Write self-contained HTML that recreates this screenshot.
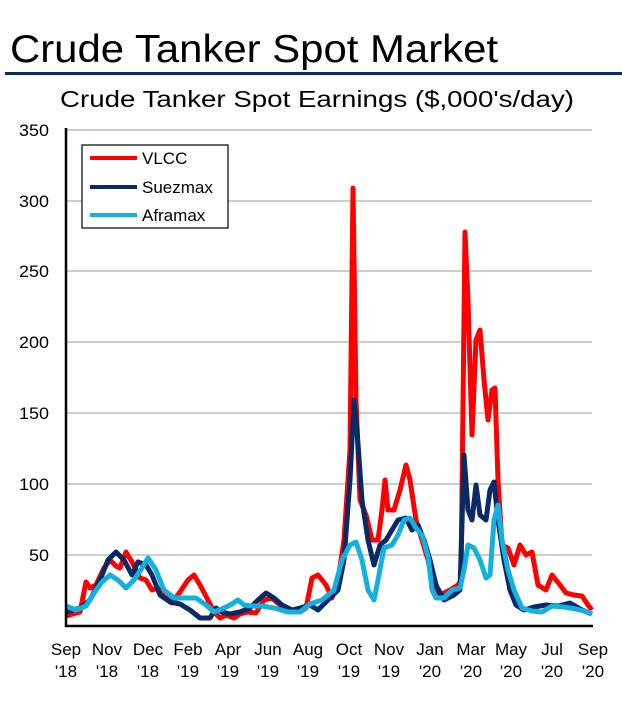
<!DOCTYPE html>
<html><head><meta charset="utf-8"><style>
html,body{margin:0;padding:0;background:#fff;}
body{width:622px;height:698px;overflow:hidden;font-family:"Liberation Sans",sans-serif;}
</style></head><body>
<svg width="622" height="698" xmlns="http://www.w3.org/2000/svg" font-family="Liberation Sans, sans-serif">
<text x="10" y="62" font-size="39" fill="#000" textLength="488" lengthAdjust="spacingAndGlyphs">Crude Tanker Spot Market</text>
<rect x="5" y="72" width="617" height="3" fill="#0d2a5e"/>
<text x="60" y="107" font-size="23" fill="#000" textLength="514" lengthAdjust="spacingAndGlyphs">Crude Tanker Spot Earnings ($,000's/day)</text>
<g stroke="#bdbdbd" stroke-width="1.5">
<line x1="66" y1="130" x2="592" y2="130"/>
<line x1="66" y1="201" x2="592" y2="201"/>
<line x1="66" y1="271" x2="592" y2="271"/>
<line x1="66" y1="342" x2="592" y2="342"/>
<line x1="66" y1="413" x2="592" y2="413"/>
<line x1="66" y1="484" x2="592" y2="484"/>
<line x1="66" y1="555" x2="592" y2="555"/>
</g>
<g font-size="17" text-anchor="end" fill="#000">
<text x="49" y="136" textLength="30" lengthAdjust="spacingAndGlyphs">350</text><text x="49" y="207" textLength="30" lengthAdjust="spacingAndGlyphs">300</text><text x="49" y="277" textLength="30" lengthAdjust="spacingAndGlyphs">250</text>
<text x="49" y="348" textLength="30" lengthAdjust="spacingAndGlyphs">200</text><text x="49" y="419" textLength="30" lengthAdjust="spacingAndGlyphs">150</text><text x="49" y="490" textLength="30" lengthAdjust="spacingAndGlyphs">100</text><text x="49" y="561" textLength="20" lengthAdjust="spacingAndGlyphs">50</text>
</g>
<g fill="none" stroke-width="5" stroke-linejoin="round">
<polyline stroke="#ff0000" points="66,616 80,612 86,582 90,588 96,585 104,568 110,560 116,566 120,568 126,552 132,562 140,578 146,580 152,590 158,588 165,597 172,603 180,592 188,580 194,575 200,585 208,600 214,612 220,618 226,615 234,618 240,614 248,612 256,613 264,600 272,598 280,605 290,612 300,612 306,608 312,578 318,575 326,585 332,598 338,580 344,540 350,450 353,188 356,400 360,500 366,515 372,540 378,540 382,510 385,480 388,510 394,510 400,490 406,465 410,480 416,520 422,540 428,560 434,590 440,595 450,590 458,585 461,580 465,232 468,300 472,435 476,340 480,330 484,380 488,420 492,390 495,388 498,480 502,545 508,548 514,565 520,545 526,555 532,552 538,585 546,590 552,575 560,585 566,593 574,595 582,596 588,605 592,610"/>
<polyline stroke="#0a2a66" points="66,612 80,608 90,600 100,580 108,560 116,552 124,560 132,575 138,562 146,565 152,575 160,595 170,602 180,604 190,610 200,618 210,618 216,608 222,612 230,614 240,612 250,608 258,600 266,593 274,598 282,605 292,610 300,608 310,605 318,610 328,600 338,590 344,560 350,480 354,400 357,430 362,500 368,540 374,565 380,545 386,540 392,530 398,520 406,518 412,530 418,525 424,540 430,560 436,585 444,600 454,595 460,590 464,455 468,510 472,520 476,485 480,515 486,520 490,490 494,482 498,520 504,560 510,590 516,605 524,610 534,607 546,605 558,606 570,603 582,610 592,614"/>
<polyline stroke="#14b0df" points="66,606 76,610 86,606 96,590 102,582 110,575 118,580 126,588 134,580 142,568 148,558 156,570 164,590 174,598 186,598 196,598 206,605 214,612 224,608 232,604 238,600 244,605 252,606 262,606 274,608 288,612 300,612 310,604 322,600 334,590 342,560 350,545 356,542 362,560 368,590 374,600 378,580 384,548 392,545 398,535 404,520 410,518 416,528 422,535 428,556 432,590 436,598 444,598 452,590 460,588 464,570 468,545 474,548 480,560 486,578 490,575 494,520 498,505 502,540 508,570 514,590 522,608 532,611 542,612 552,606 564,607 576,609 588,612 592,614"/>
</g>
<line x1="66" y1="128" x2="66" y2="627" stroke="#000" stroke-width="2.5"/>
<line x1="65" y1="626" x2="593" y2="626" stroke="#000" stroke-width="2.5"/>
<rect x="82" y="145" width="146" height="83" fill="#fff" stroke="#000" stroke-width="1.2"/>
<g stroke-width="4"><line x1="90" y1="158" x2="137" y2="158" stroke="#ff0000"/><line x1="90" y1="187" x2="137" y2="187" stroke="#0a2a66"/><line x1="90" y1="215" x2="137" y2="215" stroke="#14b0df"/></g>
<g font-size="17" fill="#000"><text x="142" y="164">VLCC</text><text x="142" y="193">Suezmax</text><text x="142" y="221">Aframax</text></g>
<g font-size="17" text-anchor="middle" fill="#000">
<text x="66" y="655">Sep</text><text x="66" y="677">'18</text>
<text x="107" y="655">Nov</text><text x="107" y="677">'18</text>
<text x="148" y="655">Dec</text><text x="148" y="677">'18</text>
<text x="188" y="655">Feb</text><text x="188" y="677">'19</text>
<text x="228" y="655">Apr</text><text x="228" y="677">'19</text>
<text x="268" y="655">Jun</text><text x="268" y="677">'19</text>
<text x="308" y="655">Aug</text><text x="308" y="677">'19</text>
<text x="349" y="655">Oct</text><text x="349" y="677">'19</text>
<text x="389" y="655">Nov</text><text x="389" y="677">'19</text>
<text x="430" y="655">Jan</text><text x="430" y="677">'20</text>
<text x="471" y="655">Mar</text><text x="471" y="677">'20</text>
<text x="511" y="655">May</text><text x="511" y="677">'20</text>
<text x="552" y="655">Jul</text><text x="552" y="677">'20</text>
<text x="593" y="655">Sep</text><text x="593" y="677">'20</text>
</g>
</svg>
</body></html>
